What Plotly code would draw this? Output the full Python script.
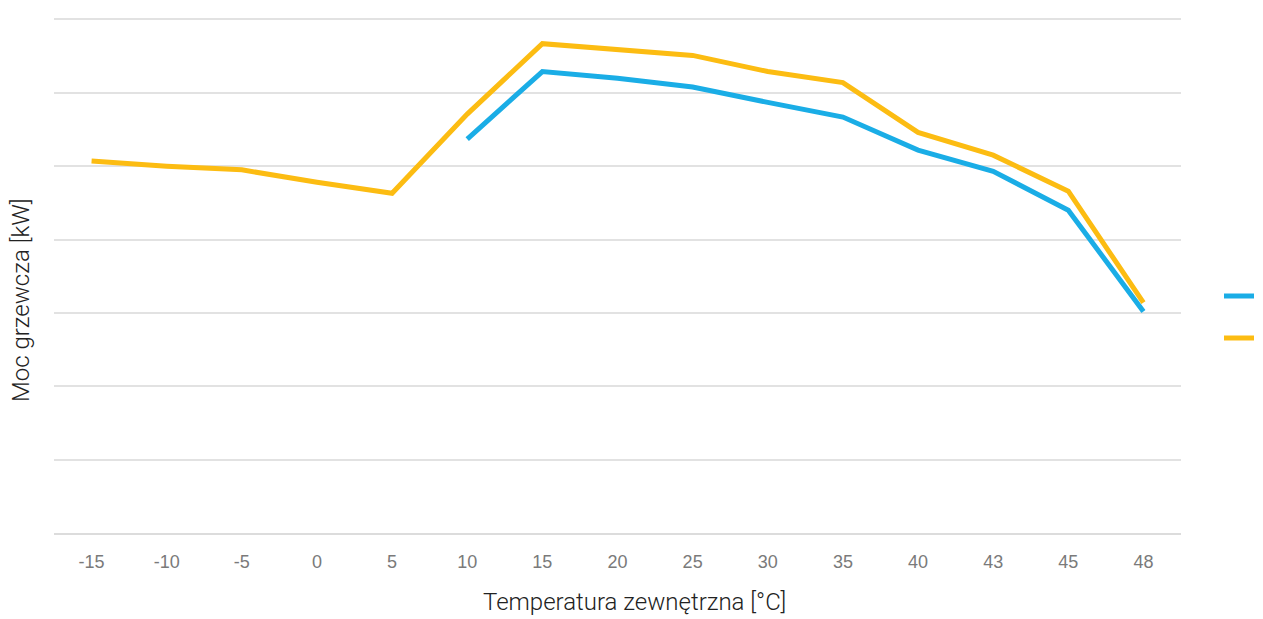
import plotly.graph_objects as go

categories = ["-15", "-10", "-5", "0", "5", "10", "15", "20", "25", "30", "35", "40", "43", "45", "48"]
series_blue = [None, None, None, None, None, 5.37, 6.29, 6.20, 6.08, 5.87, 5.67, 5.22, 4.93, 4.40, 3.02]
series_yellow = [5.07, 5.00, 4.95, 4.78, 4.63, 5.71, 6.67, 6.59, 6.51, 6.29, 6.14, 5.46, 5.15, 4.66, 3.14]

OFF = 8  # page body margin offset
L, R, T, B = 54 - OFF, 1181 - OFF, 18 - OFF, 533 - OFF
W = R - L
H = B - T

fig = go.Figure()
fig.add_trace(go.Scatter(x=categories, y=series_blue, mode="lines", name=" ",
                         line=dict(color="#1AADE6", width=5), connectgaps=False))
fig.add_trace(go.Scatter(x=categories, y=series_yellow, mode="lines", name=" ",
                         line=dict(color="#FCBC12", width=5)))

fig.update_layout(
    width=1263, height=619,
    margin=dict(l=L, r=1263 - R, t=T, b=619 - B, autoexpand=False),
    paper_bgcolor="white", plot_bgcolor="white",
    showlegend=True,
    legend=dict(x=1 + (1219 - OFF - R) / W, y=(B - (317 - OFF)) / H, xanchor="left", yanchor="middle",
                font=dict(size=30), itemwidth=30, bgcolor="rgba(0,0,0,0)"),
    xaxis=dict(type="category", range=[-0.5, 14.5], showgrid=False,
               showline=True, linecolor="#dcdcdc", linewidth=2,
               tickfont=dict(family="Liberation Sans, Arial", size=18, color="#7a7a7a"),
               ticks="", ticklabelstandoff=11, zeroline=False),
    yaxis=dict(range=[0, 7.02], tickvals=[1, 2, 3, 4, 5, 6, 7], showticklabels=False, showgrid=True,
               gridcolor="#e2e2e2", gridwidth=2, zeroline=False, ticks=""),
    annotations=[
        dict(text="Temperatura zewnętrzna [°C]", xref="paper", yref="paper",
             x=(634 - OFF - L) / W, y=(B - (602 - OFF)) / H,
             xanchor="center", yanchor="middle", showarrow=False,
             font=dict(family="Roboto, Inter", size=24, color="#222", weight=300)),
        dict(text="Moc grzewcza [kW]", xref="paper", yref="paper",
             x=(21 - OFF - L) / W, y=(B - (300 - OFF)) / H,
             xanchor="center", yanchor="middle", showarrow=False, textangle=-90,
             borderpad=0,
             font=dict(family="Roboto, Inter", size=24, color="#222", weight=300)),
    ],
)

fig.write_html("out.html")
